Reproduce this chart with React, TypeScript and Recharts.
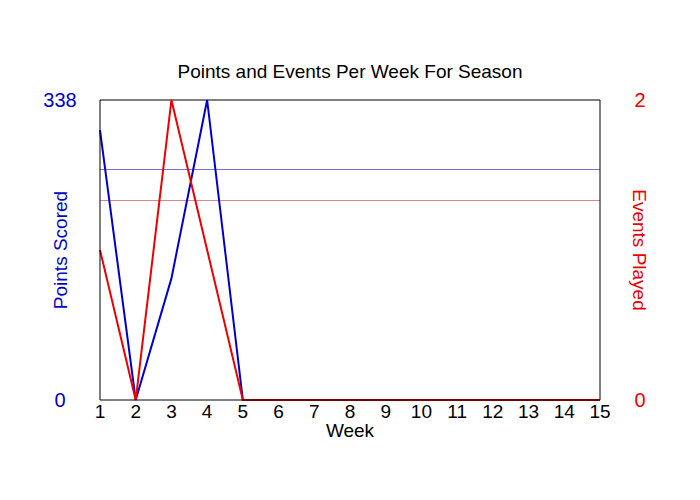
import React from "react"
import { ComposedChart, Line, XAxis, YAxis, ReferenceLine } from "recharts"

// weekly values
const weeks = [1, 2, 3, 4, 5, 6, 7, 8, 9, 10, 11, 12, 13, 14, 15]
const pointsScored = [304, 0, 137, 338, 0, 0, 0, 0, 0, 0, 0, 0, 0, 0, 0]
const eventsPlayed = [1, 0, 2, 1, 0, 0, 0, 0, 0, 0, 0, 0, 0, 0, 0]
const pointsTicks = [0, 338]
const eventsTicks = [0, 2]

const BLUE = "#0000cc"
const RED = "#ee0000"
const FONT = "'Liberation Sans', Arial, sans-serif"

const chartData = weeks.map((week, i) => ({
  week,
  points: pointsScored[i],
  events: eventsPlayed[i],
}))

// averages over the weeks that had events
const playedIdx = eventsPlayed.map((e, i) => (e > 0 ? i : -1)).filter(i => i >= 0)
const pointsAvg = playedIdx.reduce((s, i) => s + pointsScored[i], 0) / playedIdx.length
const eventsAvg = playedIdx.reduce((s, i) => s + eventsPlayed[i], 0) / playedIdx.length
const pointsMax = pointsTicks[pointsTicks.length - 1]

const WeekTick = (props: any) => (
  <text x={props.x} y={418} textAnchor="middle" fill="#000" fontSize={19} fontFamily={FONT}>
    {props.payload.value}
  </text>
)

const makeSideTick = (x: number, color: string) => (props: any) => (
  <text x={x} y={props.y + 7} textAnchor="middle" fill={color} fontSize={20} fontFamily={FONT}>
    {props.payload.value}
  </text>
)

export default function App() {
  return (
    <div style={{ position: "absolute", left: 0, top: 0, width: 700, height: 500, background: "#fff" }}>
      <ComposedChart width={700} height={500} data={chartData} margin={{ top: 100, right: 0, bottom: 0, left: 0 }}>
        <text x={350} y={78} textAnchor="middle" fontSize={19} fontFamily={FONT} fill="#000">
          Points and Events Per Week For Season
        </text>
        <XAxis
          dataKey="week"
          type="number"
          domain={[1, 15]}
          ticks={weeks}
          height={100}
          interval={0}
          stroke="#000"
          tickLine={false}
          axisLine={{ stroke: "#000", strokeWidth: 1 }}
          tick={WeekTick}
          label={{ value: "Week", position: "insideTop", offset: 24, fill: "#000", fontSize: 19, fontFamily: FONT }}
        />
        <YAxis
          yAxisId="points"
          domain={[0, pointsMax]}
          ticks={pointsTicks}
          width={100}
          stroke="#000"
          tickLine={false}
          axisLine={{ stroke: "#000", strokeWidth: 1 }}
          tick={makeSideTick(60, BLUE)}
          label={{ value: "Points Scored", angle: -90, position: "insideLeft", offset: 60, fill: BLUE, fontSize: 19, fontFamily: FONT, style: { textAnchor: "middle" } }}
        />
        <YAxis
          yAxisId="events"
          orientation="right"
          domain={[0, 2]}
          ticks={eventsTicks}
          width={100}
          stroke="#000"
          tickLine={false}
          axisLine={{ stroke: "#000", strokeWidth: 1 }}
          tick={makeSideTick(640, RED)}
          label={{ value: "Events Played", angle: 90, position: "insideRight", offset: 60, fill: RED, fontSize: 19, fontFamily: FONT, style: { textAnchor: "middle" } }}
        />
        {/* top edge of the plot frame */}
        <ReferenceLine yAxisId="points" y={pointsMax} stroke="#000" strokeWidth={1} />
        <ReferenceLine yAxisId="points" y={pointsAvg} stroke="#7474cc" strokeWidth={1} shapeRendering="crispEdges" />
        <ReferenceLine yAxisId="events" y={eventsAvg} stroke="#dc8686" strokeWidth={1} shapeRendering="crispEdges" />
        <Line
          yAxisId="points"
          type="linear"
          dataKey="points"
          stroke={BLUE}
          strokeWidth={2}
          dot={false}
          isAnimationActive={false}
        />
        <Line
          yAxisId="events"
          type="linear"
          dataKey="events"
          stroke={RED}
          strokeWidth={2}
          dot={false}
          isAnimationActive={false}
        />
      </ComposedChart>
    </div>
  )
}
